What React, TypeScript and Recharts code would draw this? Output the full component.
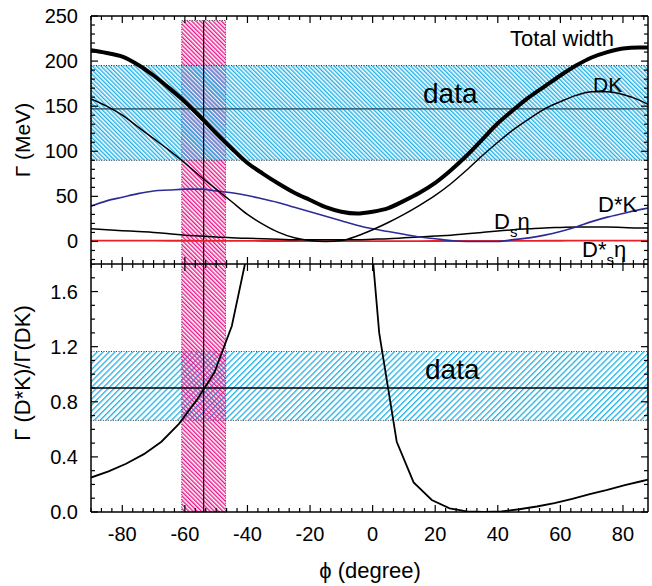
import React from "react";
import {
	ComposedChart,
	Line,
	XAxis,
	YAxis,
	ReferenceArea,
	ReferenceLine,
} from "recharts";

// mixing angle (degree) at which the widths were read
const phi = [
	-90, -85, -80, -75, -70, -65, -60, -55, -50, -45, -40, -35, -30, -25, -20, -15,
	-10, -5, 0, 5, 10, 15, 20, 25, 30, 35, 40, 45, 50, 55, 60, 65, 70, 75, 80, 85, 88,
];
// partial widths in MeV
const totalWidth = [
	212, 209, 205, 196, 184, 170, 155, 138, 120, 103, 87, 75, 64, 54, 46, 38, 33, 31,
	33, 37, 45, 54, 65, 79, 95, 113, 131, 146, 160, 172, 184, 195, 204, 210, 214, 215, 215,
];
const dkWidth = [
	158, 150, 140, 127, 114, 101, 87, 72, 58, 44, 30, 19, 10, 4, 1, 0, 1, 6, 13, 21, 30,
	40, 51, 64, 79, 95, 110, 124, 136, 147, 155, 162, 166, 166, 163, 157, 152,
];
const dStarKWidth = [
	39, 45, 49, 53, 56, 57, 58, 58, 56, 54, 51, 47, 43, 38, 33, 28, 23, 18, 14, 11, 8, 5,
	3, 1, 0, 0, 0, 2, 4, 7, 11, 16, 22, 27, 31, 35, 37,
];
const dsEtaWidth = [
	14, 13, 12, 11, 10, 8.5, 7, 6, 5, 4, 3.5, 3, 2.5, 2, 2, 2, 2, 2, 2.5, 3, 4, 5, 6, 7,
	8.5, 10, 11.5, 13, 14, 15, 15.5, 16, 16, 16, 15.5, 15, 15,
];
const dsStarEtaWidth = [
	1, 1, 1, 0.9, 0.9, 0.8, 0.8, 0.7, 0.7, 0.6, 0.6, 0.5, 0.5, 0.5, 0.4, 0.4, 0.4, 0.4,
	0.4, 0.4, 0.4, 0.4, 0.5, 0.5, 0.5, 0.6, 0.6, 0.7, 0.7, 0.8, 0.8, 0.9, 0.9, 1, 1, 1, 1,
];

// ratio Γ(D*K)/Γ(DK), the null marks the pole where Γ(DK) = 0
const ratioPhi = [
	-90, -84.4, -78.8, -73.1, -67.5, -61.9, -56.3, -50.6, -45, -39.4, -17, -3.4, 2.1,
	7.7, 13.1, 18.9, 24.6, 30, 35.6, 41.2, 46.9, 52.5, 58.1, 63.8, 69.4, 75, 80.6, 86.2, 88,
];
const ratioValues = [
	0.25, 0.295, 0.35, 0.42, 0.51, 0.64, 0.81, 1.01, 1.35, 1.95, null, 2.75, 1.3, 0.51,
	0.215, 0.087, 0.027, 0.005, 0, 0.004, 0.02, 0.04, 0.065, 0.095, 0.13, 0.16, 0.195,
	0.225, 0.235,
];

// experimental bands
const widthBand = [90, 147, 195]; // low, central, high (MeV)
const ratioBand = [0.665, 0.9, 1.165];
const angleBand = [-61, -54, -47]; // low, central, high (degree)

const xMajor = [-80, -60, -40, -20, 0, 20, 40, 60, 80];
const topYMajor = [0, 50, 100, 150, 200, 250];
const bottomYMajor = [0, 0.4, 0.8, 1.2, 1.6];

const range = (from: number, to: number, step: number) => {
	const out: number[] = [];
	for (let v = from; v <= to + 1e-9; v += step) out.push(Math.round(v * 1e4) / 1e4);
	return out;
};
const xTicks = range(-90, 88, 10 / 3);
const topYTicks = range(-20, 250, 10);
const bottomYTicks = range(0, 1.8, 0.1);

const topData = phi.map((p, i) => ({
	phi: p,
	total: totalWidth[i],
	dk: dkWidth[i],
	dstark: dStarKWidth[i],
	dseta: dsEtaWidth[i],
	dsstareta: dsStarEtaWidth[i],
}));
const ratioData = ratioPhi.map((p, i) => ({ phi: p, ratio: ratioValues[i] }));

const FONT = "'Liberation Sans', Arial, Helvetica, sans-serif";
const isMajor = (v: number, majors: number[]) =>
	majors.some((m) => Math.abs(m - v) < 1e-6);

const makeXTick = (labels: boolean) => (props: any) => {
	const { x, y, payload } = props;
	const major = isMajor(payload.value, xMajor);
	return (
		<g>
			<line x1={x} x2={x} y1={y} y2={y - (major ? 7 : 4)} stroke="#000" strokeWidth={1.2} />
			{labels && major ? (
				<text x={x} y={y + 29} textAnchor="middle" fontSize={20} fontFamily={FONT} fill="#000">
					{payload.value}
				</text>
			) : null}
		</g>
	);
};

const makeYTick =
	(side: "left" | "right", majors: number[], digits: number) => (props: any) => {
		const { x, y, payload } = props;
		const major = isMajor(payload.value, majors);
		const dir = side === "left" ? 1 : -1;
		return (
			<g>
				<line x1={x} x2={x + dir * (major ? 7 : 4)} y1={y} y2={y} stroke="#000" strokeWidth={1.2} />
				{side === "left" && major ? (
					<text x={x - 13} y={y + 7} textAnchor="end" fontSize={20} fontFamily={FONT} fill="#000">
						{payload.value.toFixed(digits)}
					</text>
				) : null}
			</g>
		);
	};

const axisLine = { stroke: "#000", strokeWidth: 1.5 };

// bottom, left and right axes; the top edge gets its inward ticks as short
// reference segments, yMax is the top of the domain and unit is one pixel in y
function Frame({ yDomain, yTicks, yMajor, digits, labels, unit }: any) {
	const yMax = yDomain[1];
	return (
		<>
			<XAxis dataKey="phi" type="number" domain={[-90, 88]} allowDataOverflow ticks={xTicks} interval={0}
				height={1} tickSize={0} tickMargin={0} tickLine={false} axisLine={axisLine} tick={makeXTick(labels)} />
			<YAxis type="number" domain={yDomain} allowDataOverflow ticks={yTicks} interval={0}
				width={1} tickSize={0} tickMargin={0} tickLine={false} axisLine={axisLine} tick={makeYTick("left", yMajor, digits)} />
			<YAxis yAxisId="right" orientation="right" type="number" domain={yDomain} allowDataOverflow ticks={yTicks} interval={0}
				width={1} tickSize={0} tickMargin={0} tickLine={false} axisLine={axisLine} tick={makeYTick("right", yMajor, digits)} />
			<ReferenceLine y={yMax} stroke="#000" strokeWidth={1.5} />
			{xTicks.map((v) => (
				<ReferenceLine key={v} segment={[{ x: v, y: yMax }, { x: v, y: yMax - unit * (isMajor(v, xMajor) ? 7 : 4) }]}
					stroke="#000" strokeWidth={1.2} />
			))}
		</>
	);
}

function WidthPanel() {
	return (
		<ComposedChart width={652} height={264} data={topData} margin={{ top: 16, right: 3, bottom: -1, left: 90 }}>
			<defs>
				<pattern id="cyanDown" width="3" height="3" patternUnits="userSpaceOnUse" patternTransform="rotate(-45)">
					<line x1="0.7" y1="0" x2="0.7" y2="3" stroke="#22b0e6" strokeWidth="1.4" />
				</pattern>
				<pattern id="pinkTop" width="3" height="3" patternUnits="userSpaceOnUse" patternTransform="rotate(-45)">
					<line x1="0.7" y1="0" x2="0.7" y2="3" stroke="#e8168a" strokeWidth="1.4" />
				</pattern>
			</defs>
			{Frame({ yDomain: [-25, 250], yTicks: topYTicks, yMajor: topYMajor, digits: 0, labels: false, unit: 275 / 248 })}
			<ReferenceArea x1={angleBand[0]} x2={angleBand[2]} y1={-25} y2={245} fill="url(#pinkTop)" fillOpacity={1}
				stroke="#444" strokeDasharray="1 1.5" strokeWidth={1} />
			<ReferenceArea x1={-90} x2={88} y1={widthBand[0]} y2={widthBand[2]} fill="url(#cyanDown)" fillOpacity={1}
				stroke="#222" strokeDasharray="1 1.5" strokeWidth={1} />
			<ReferenceLine y={widthBand[1]} stroke="#23404e" strokeWidth={1.3} />
			<ReferenceLine segment={[{ x: angleBand[1], y: -25 }, { x: angleBand[1], y: 245 }]} stroke="#000" strokeWidth={1.2} />
			<Line dataKey="dsstareta" type="monotone" stroke="#e8202a" strokeWidth={1.8} dot={false} isAnimationActive={false} />
			<Line dataKey="dseta" type="monotone" stroke="#000" strokeWidth={1.5} dot={false} isAnimationActive={false} />
			<Line dataKey="dstark" type="monotone" stroke="#2c2c96" strokeWidth={1.6} dot={false} isAnimationActive={false} />
			<Line dataKey="dk" type="monotone" stroke="#000" strokeWidth={1.5} dot={false} isAnimationActive={false} />
			<Line dataKey="total" type="monotone" stroke="#000" strokeWidth={4} dot={false} isAnimationActive={false} />
		</ComposedChart>
	);
}

function RatioPanel() {
	return (
		<ComposedChart width={652} height={322} data={ratioData} margin={{ top: 0, right: 3, bottom: 73, left: 90 }}>
			<defs>
				<pattern id="cyanUp" width="4.2" height="4.2" patternUnits="userSpaceOnUse" patternTransform="rotate(45)">
					<line x1="0.7" y1="0" x2="0.7" y2="4.2" stroke="#22b0e6" strokeWidth="1.3" />
				</pattern>
				<pattern id="pinkBottom" width="3" height="3" patternUnits="userSpaceOnUse" patternTransform="rotate(-45)">
					<line x1="0.7" y1="0" x2="0.7" y2="3" stroke="#e8168a" strokeWidth="1.4" />
				</pattern>
			</defs>
			{Frame({ yDomain: [0, 1.8], yTicks: bottomYTicks, yMajor: bottomYMajor, digits: 1, labels: true, unit: 1.8 / 248 })}
			<ReferenceArea x1={-90} x2={88} y1={ratioBand[0]} y2={ratioBand[2]} fill="url(#cyanUp)" fillOpacity={1}
				stroke="#444" strokeDasharray="1 1.5" strokeWidth={1} />
			<ReferenceArea x1={angleBand[0]} x2={angleBand[2]} y1={0} y2={1.8} fill="url(#pinkBottom)" fillOpacity={1}
				stroke="#444" strokeDasharray="1 1.5" strokeWidth={1} />
			<ReferenceLine y={ratioBand[1]} stroke="#000" strokeWidth={1.3} />
			<ReferenceLine x={angleBand[1]} stroke="#000" strokeWidth={1.2} />
			<Line dataKey="ratio" type="linear" stroke="#000" strokeWidth={1.8} dot={false} isAnimationActive={false} />
		</ComposedChart>
	);
}

export default function App() {
	const txt = { fontFamily: FONT, fill: "#000" };
	return (
		<div style={{ position: "absolute", left: 0, top: 0, width: 652, height: 586, background: "#fff" }}>
			<div style={{ position: "absolute", left: 0, top: 0 }}>
				<WidthPanel />
			</div>
			<div style={{ position: "absolute", left: 0, top: 264 }}>
				<RatioPanel />
			</div>
			<svg width={652} height={586} style={{ position: "absolute", left: 0, top: 0, pointerEvents: "none" }}>
				<text {...txt} x={510} y={46} fontSize={22}>Total width</text>
				<text {...txt} x={593} y={92} fontSize={21}>DK</text>
				<text {...txt} x={423} y={103} fontSize={28}>data</text>
				<text {...txt} x={598} y={212} fontSize={22}>D*K</text>
				<text {...txt} x={494} y={229} fontSize={22}>
					D<tspan fontSize={15} dy={8}>s</tspan><tspan dy={-8}>η</tspan>
				</text>
				<text {...txt} x={582} y={257} fontSize={22}>
					D*<tspan fontSize={15} dy={8}>s</tspan><tspan dy={-8}>η</tspan>
				</text>
				<text {...txt} x={425} y={379} fontSize={28}>data</text>
				<text {...txt} x={0} y={0} fontSize={21} textAnchor="middle" transform="translate(30,140) rotate(-90)">Γ (MeV)</text>
				<text {...txt} x={0} y={0} fontSize={22} textAnchor="middle" transform="translate(30,373) rotate(-90)">Γ (D*K)/Γ(DK)</text>
				<text {...txt} x={370} y={578} fontSize={22} textAnchor="middle">ϕ (degree)</text>
			</svg>
		</div>
	);
}
